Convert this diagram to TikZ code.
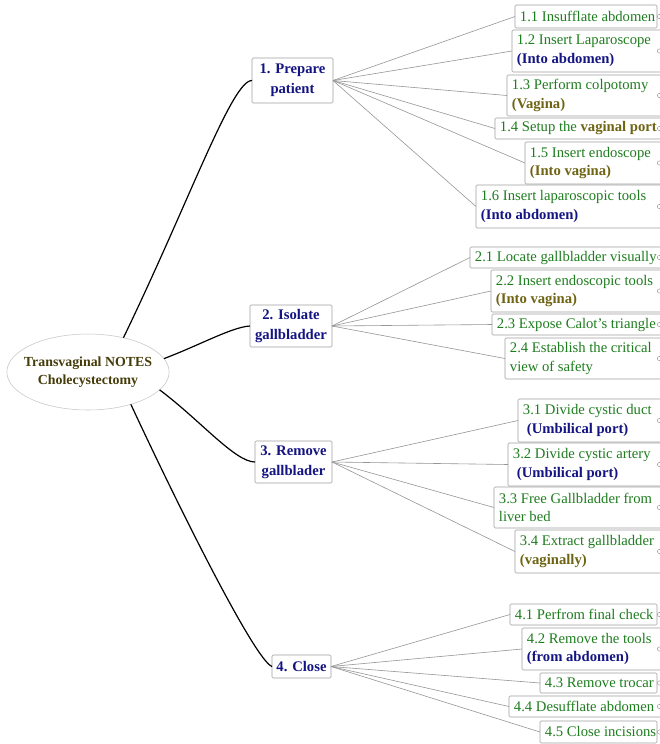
\documentclass[tikz,border=0pt]{standalone}
\usepackage{fontspec}
\setmainfont{Liberation Serif}
\usetikzlibrary{shapes.geometric,calc}
\definecolor{leafgreen}{RGB}{30,125,30}
\definecolor{navytext}{RGB}{20,20,130}
\definecolor{olivetext}{RGB}{110,100,20}
\definecolor{roottext}{RGB}{70,60,10}
\definecolor{boxgray}{RGB}{160,160,160}
\definecolor{linegray}{RGB}{150,150,150}
\newcommand\nv[1]{\textcolor{navytext}{\bfseries #1}}
\newcommand\ol[1]{\textcolor{olivetext}{\bfseries #1}}
\newcommand\leafbox[6]{%
  \node[leafrect, minimum width={(#5-#2)*0.75pt}, minimum height={(#4-#3)*0.75pt}, anchor=north west] (#1) at (#2,#3) {};
  \node[leaftext, anchor=west] (#1t) at ([xshift=3.5pt]#1.west) {#6};
  \draw[knob] (659.5,{(#3+#4)/2}) circle (1.6pt);
}
\begin{document}
\begin{tikzpicture}[x=0.75pt,y=-0.75pt,
  rootnode/.style={ellipse, draw=gray!45, fill=white, minimum width=120pt, minimum height=57pt,
    inner xsep=-5pt, inner ysep=0pt, outer sep=0pt, align=center, text=roottext,
    font=\fontsize{10.4}{13.5}\selectfont\bfseries},
  topic/.style={rectangle, draw=boxgray, rounded corners=1pt, fill=white, inner sep=0pt, outer sep=0pt,
    align=center, text=navytext, font=\fontsize{11}{15}\selectfont\bfseries},
  leafrect/.style={rectangle, draw=boxgray, rounded corners=1pt, fill=white, inner sep=0pt, outer sep=0pt},
  leaftext/.style={inner sep=0pt, align=left, text=leafgreen, font=\fontsize{11}{14}\selectfont},
  knob/.style={draw=boxgray, fill=white, line width=0.4pt},
  rootline/.style={draw=black, line width=0.9pt},
  leafline/.style={draw=linegray, line width=0.45pt}]
\useasboundingbox (0,0) rectangle (660,744);
\clip (0,0) rectangle (660,744);
\fill[white] (0,0) rectangle (660,744);

% root
\node[rootnode] (root) at (88,372) {Transvaginal NOTES\\Cholecystectomy};

% level 1
\node[topic, minimum width=60.75pt, minimum height=33.75pt] (p1) at (292.5,80.5) {1. Prepare\\patient};
\node[topic, minimum width=61.5pt, minimum height=31.5pt] (p2) at (291,326) {2. Isolate\\gallbladder};
\node[topic, minimum width=57.75pt, minimum height=31.5pt] (p3) at (293.5,462) {3. Remove\\gallblader};
\node[topic, minimum width=44.25pt, minimum height=17.25pt] (p4) at (301.5,666.5) {4. Close};

% root connectors
\draw[rootline] (root.44) .. controls (190,200) and (232,80) .. (p1.west);
\draw[rootline] (root.10) .. controls (200,345) and (232,327) .. (p2.west);
\draw[rootline] (root.-14) .. controls (200,420) and (235,462) .. (p3.west);
\draw[rootline] (root.-37) .. controls (180,510) and (255,660) .. (p4.west);

% leaves 1.x
\leafbox{n11}{515}{5}{28}{657}{1.1 Insufflate abdomen}
\leafbox{n12}{512}{30}{72}{690}{1.2 Insert Laparoscope\\\nv{(Into abdomen)}}
\leafbox{n13}{507}{75}{116}{690}{1.3 Perform colpotomy\\\ol{(Vagina)}}
\leafbox{n14}{495}{118}{139}{690}{1.4 Setup the \ol{vaginal port}}
\leafbox{n15}{525}{142}{184}{690}{1.5 Insert endoscope\\\ol{(Into vagina)}}
\leafbox{n16}{476}{185}{228}{690}{1.6 Insert laparoscopic tools\\\nv{(Into abdomen)}}

% leaves 2.x
\leafbox{n21}{470}{247}{268}{690}{2.1 Locate gallbladder visually}
\leafbox{n22}{491}{270}{312}{690}{2.2 Insert endoscopic tools\\\ol{(Into vagina)}}
\leafbox{n23}{492}{314}{335}{690}{2.3 Expose Calot’s triangle}
\leafbox{n24}{505}{338}{379}{690}{2.4 Establish the critical\\view of safety}

% leaves 3.x
\leafbox{n31}{518}{399}{442}{690}{3.1 Divide cystic duct\\\hspace*{3pt}\nv{(Umbilical port)}}
\leafbox{n32}{508}{443}{486}{690}{3.2 Divide cystic artery\\\hspace*{3pt}\nv{(Umbilical port)}}
\leafbox{n33}{494}{487}{528}{690}{3.3 Free Gallbladder from\\liver bed}
\leafbox{n34}{515}{530}{573}{690}{3.4 Extract gallbladder\\\ol{(vaginally)}}

% leaves 4.x
\leafbox{n41}{510}{604}{625}{657}{4.1 Perfrom final check}
\leafbox{n42}{522}{628}{670}{690}{4.2 Remove the tools\\\nv{(from abdomen)}}
\leafbox{n43}{540}{673}{693}{657}{4.3 Remove trocar}
\leafbox{n44}{509}{696}{717}{690}{4.4 Desufflate abdomen}
\leafbox{n45}{540}{721}{743}{657}{4.5 Close incisions}

% leaf connectors
\foreach \c in {n11,n12,n13,n14,n15,n16} \draw[leafline] (p1.east) -- (\c.west);
\foreach \c in {n21,n22,n23,n24} \draw[leafline] (p2.east) -- (\c.west);
\foreach \c in {n31,n32,n33,n34} \draw[leafline] (p3.east) -- (\c.west);
\foreach \c in {n41,n42,n43,n44,n45} \draw[leafline] (p4.east) -- (\c.west);
\end{tikzpicture}
\end{document}
